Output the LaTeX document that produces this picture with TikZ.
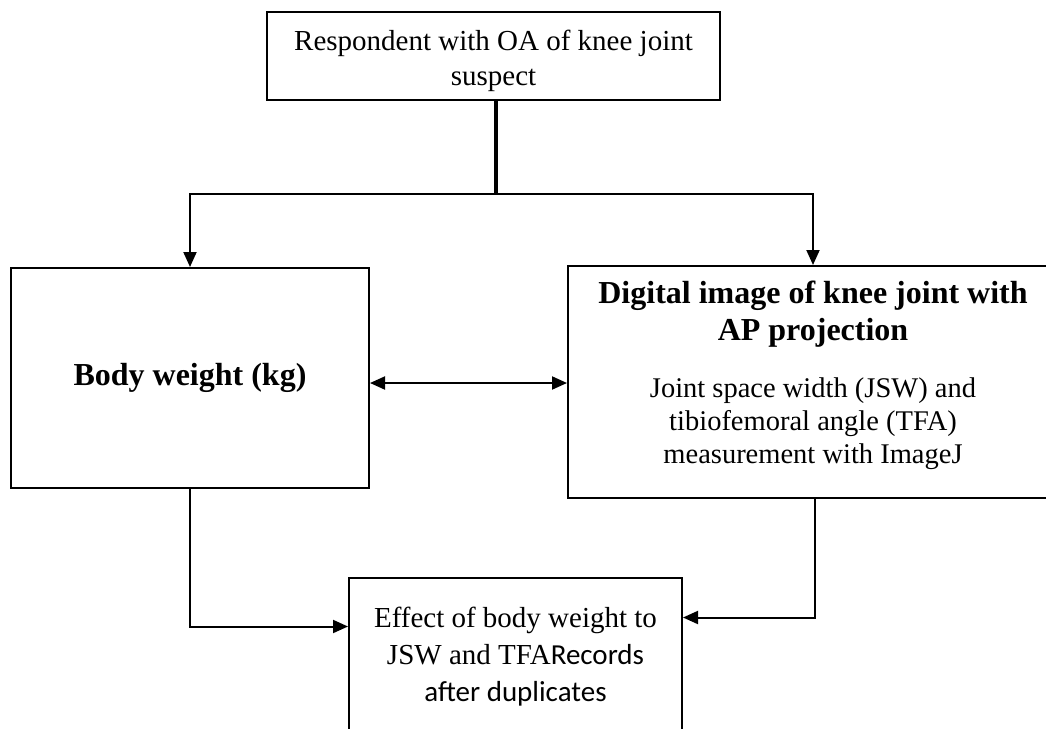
\documentclass[tikz,border=0pt]{standalone}
\usepackage{fontspec}
\setmainfont{Liberation Serif}
\newfontfamily\calibrifont{Carlito}
\usetikzlibrary{arrows.meta}
\tikzset{
  box/.style={draw, line width=2pt, inner sep=0pt, align=center},
  conn/.style={line width=2pt, -{Triangle[length=15pt,width=13pt]}},
  biconn/.style={line width=2pt, {Triangle[length=15pt,width=13pt]}-{Triangle[length=15pt,width=13pt]}},
  trunk/.style={line width=4pt}
}
\begin{document}
\begin{tikzpicture}[x=1pt,y=-1pt]
\useasboundingbox (0,0) rectangle (1046,728);
\fill[white] (0,0) rectangle (1046,728);
\clip (0,0) rectangle (1046,728);

\node[box, minimum width=453pt, minimum height=88pt,
      font=\fontsize{29}{35}\selectfont] (top) at (493.5,56)
  {\rule{0pt}{30pt}Respondent with OA of knee joint\\suspect};

\node[box, minimum width=358pt, minimum height=220pt,
      font=\fontsize{32}{37}\selectfont\bfseries] (bw) at (190,378)
  {Body weight (kg)};

\node[box, minimum width=490pt, minimum height=232pt,
      font=\fontsize{28.5}{33}\selectfont] (dig) at (813,382)
  {{\fontsize{32}{37}\selectfont\bfseries Digital image of knee joint with}\\[4pt]
   {\fontsize{32}{37}\selectfont\bfseries AP projection}\\[24pt]
   Joint space width (JSW) and\\
   tibiofemoral angle (TFA)\\
   measurement with ImageJ\rule[-19pt]{0pt}{0pt}};

\node[box, minimum width=333pt, minimum height=157pt,
      font=\fontsize{29}{37}\selectfont] (eff) at (515.5,656.5)
  {Effect of body weight to\\
   JSW and TFA{\calibrifont Records}\\
   {\calibrifont after duplicates}};

\coordinate (split) at (496,194);
\draw[trunk] ([xshift=2.5pt]top.south) -- (split);
\draw[conn] (split) -| (bw.north);
\draw[conn] (split) -| (dig.north);
\draw[biconn] ([yshift=-5pt]bw.east) -- ([yshift=-1pt]dig.west);
\draw[conn] (bw.south) |- ([yshift=30pt]eff.west);
\draw[conn] ([xshift=2pt]dig.south) |- ([yshift=39pt]eff.east);
\end{tikzpicture}
\end{document}
